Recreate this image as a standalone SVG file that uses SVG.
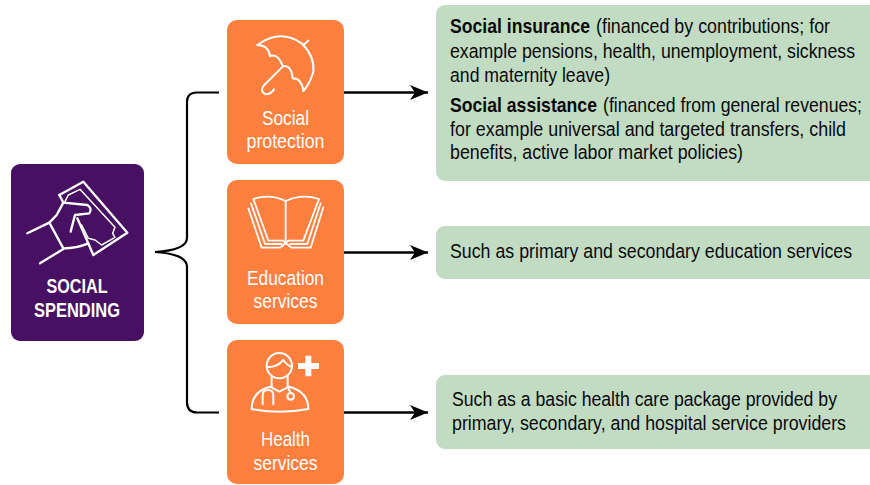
<svg xmlns="http://www.w3.org/2000/svg" width="870" height="485" viewBox="0 0 870 485">
<defs>
<marker id="ah" markerUnits="userSpaceOnUse" markerWidth="19" markerHeight="16" refX="18" refY="8" orient="auto"><path d="M0 0.5L18 8L0 15.500L5 8Z" fill="#000"/></marker>
</defs>
<style>
text{font-family:"Liberation Sans",Arial,sans-serif}
.n{font-size:20.5px;fill:#fff;text-anchor:middle}
.h{font-size:20.5px;fill:#fff;text-anchor:middle;font-weight:700}
.t{font-size:19.5px;fill:#0a0a0a}
.b{font-weight:700}
.o{fill:#ff7f3f}
.g{fill:#c2dcc4}
.i{fill:none;stroke:#fff;stroke-linecap:round;stroke-linejoin:round}
.c{fill:none;stroke:#000;stroke-width:2.2}
.a{fill:none;stroke:#000;stroke-width:2.6}
</style>
<g id="social-spending">
<rect x="11" y="164" width="133" height="177" rx="9" fill="#471063"/>
<g class="i" stroke-width="7" transform="translate(0,150) scale(.3333)">
<path d="M178 135L250 95L382 248L280 315L232 205"/>
<path stroke-width="4.500" d="M195 155L205 135L240 118L345 232L338 250L345 262L305 285L285 270L265 265L245 225"/>
<path d="M178 135L190 158L262 165Q278 175 268 190L225 195L212 245"/>
<path d="M190 158L170 195L148 218L190 295Q230 295 265 280"/>
<path d="M82 250L148 218M120 340L190 297"/>
</g>
<text class="h" x="77" y="293" textLength="61" lengthAdjust="spacingAndGlyphs">SOCIAL</text>
<text class="h" x="77" y="317" textLength="86" lengthAdjust="spacingAndGlyphs">SPENDING</text>
</g>
<g id="social-protection">
<rect class="o" x="227" y="20" width="117" height="144" rx="10"/>
<g class="i" stroke-width="6" transform="translate(220,10) scale(.3333)">
<path d="M112 105Q180 55 245 100Q285 140 280 185Q270 220 250 243"/>
<path d="M112 105Q145 105 150 138Q175 130 188 168Q215 165 218 205Q245 205 250 243"/>
<path d="M188 170L130 228Q120 245 135 252Q150 255 162 238M250 105L265 92"/>
</g>
<text class="n" x="285.500" y="125" textLength="47" lengthAdjust="spacingAndGlyphs">Social</text>
<text class="n" x="285.500" y="148" textLength="78" lengthAdjust="spacingAndGlyphs">protection</text>
</g>
<g id="education-services">
<rect class="o" x="227" y="180" width="117" height="144" rx="10"/>
<g class="i" stroke-width="5.500" transform="translate(220,175) scale(.3333)">
<path d="M100 72Q150 55 197 78Q245 55 297 72L250 197L205 197L197 205L190 197L145 197Z"/>
<path d="M197 78V205"/>
<path d="M93 85L135 207L185 207M302 85L262 207L210 207"/>
<path d="M85 100L125 218L180 218L197 205L215 218L272 218L310 97"/>
</g>
<text class="n" x="285.500" y="285" textLength="77" lengthAdjust="spacingAndGlyphs">Education</text>
<text class="n" x="285.500" y="308" textLength="64" lengthAdjust="spacingAndGlyphs">services</text>
</g>
<g id="health-services">
<rect class="o" x="227" y="340" width="117" height="144" rx="10"/>
<g class="i" stroke-width="6" transform="translate(220,335) scale(.3333)">
<circle cx="178" cy="92" r="38"/>
<path d="M140 95Q170 100 190 75Q205 95 215 95"/>
<path d="M155 125V155M203 125V155"/>
<path d="M95 222Q95 170 150 155L178 170L208 155Q265 170 265 222Q180 238 95 222Z"/>
<path d="M128 208V180Q128 165 145 165Q160 165 160 180V208"/>
<circle cx="212" cy="184" r="10"/>
<path d="M205 160L212 174"/>
<path d="M265 62V124M234 93H297" stroke-width="18" stroke-linecap="butt"/>
</g>
<text class="n" x="285.500" y="446" textLength="49" lengthAdjust="spacingAndGlyphs">Health</text>
<text class="n" x="285.500" y="470" textLength="64" lengthAdjust="spacingAndGlyphs">services</text>
</g>
<g id="detail-protection">
<rect class="g" x="436" y="5" width="444" height="176" rx="9"/>
<text class="t b" transform="translate(450 33) scale(.9 1)" textLength="155.600" lengthAdjust="spacingAndGlyphs">Social insurance</text>
<text class="t" transform="translate(596 33) scale(.9 1)" textLength="260" lengthAdjust="spacingAndGlyphs">(financed by contributions; for</text>
<text class="t" transform="translate(450 58) scale(.9 1)" textLength="450" lengthAdjust="spacingAndGlyphs">example pensions, health, unemployment, sickness</text>
<text class="t" transform="translate(450 82) scale(.9 1)" textLength="177.800" lengthAdjust="spacingAndGlyphs">and maternity leave)</text>
<text class="t b" transform="translate(450 112) scale(.9 1)" textLength="163.300" lengthAdjust="spacingAndGlyphs">Social assistance</text>
<text class="t" transform="translate(603 112) scale(.9 1)" textLength="287.800" lengthAdjust="spacingAndGlyphs">(financed from general revenues;</text>
<text class="t" transform="translate(450 136) scale(.9 1)" textLength="440" lengthAdjust="spacingAndGlyphs">for example universal and targeted transfers, child</text>
<text class="t" transform="translate(450 159) scale(.9 1)" textLength="325.600" lengthAdjust="spacingAndGlyphs">benefits, active labor market policies)</text>
</g>
<g id="detail-education">
<rect class="g" x="436" y="226" width="444" height="53" rx="9"/>
<text class="t" transform="translate(450 258) scale(.9 1)" textLength="446.700" lengthAdjust="spacingAndGlyphs">Such as primary and secondary education services</text>
</g>
<g id="detail-health">
<rect class="g" x="436" y="375" width="444" height="74" rx="9"/>
<text class="t" transform="translate(452 406) scale(.9 1)" textLength="427.800" lengthAdjust="spacingAndGlyphs">Such as a basic health care package provided by</text>
<text class="t" transform="translate(452 430) scale(.9 1)" textLength="437.800" lengthAdjust="spacingAndGlyphs">primary, secondary, and hospital service providers</text>
</g>
<g id="connectors">
<path class="c" d="M219 92.500H197Q187 92.500 187 102V238Q187 250 155 252Q187 254 187 267V402Q187 412.500 197 412.500H219"/>
<path class="a" marker-end="url(#ah)" d="M344 92.500H428"/>
<path class="a" marker-end="url(#ah)" d="M344 252.500H428"/>
<path class="a" marker-end="url(#ah)" d="M344 412.500H428"/>
</g>
</svg>
